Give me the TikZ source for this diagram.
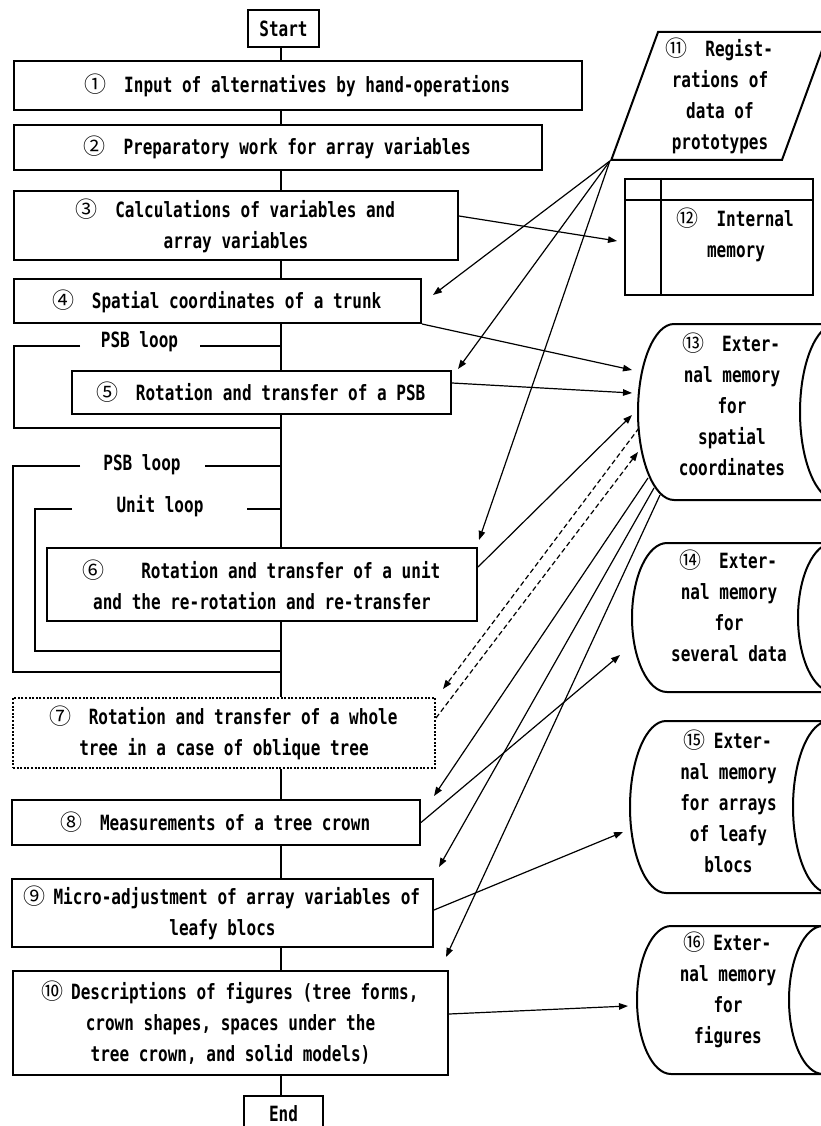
\documentclass[tikz,border=0pt]{standalone}
\usepackage{fontspec}
\usetikzlibrary{arrows.meta,calc,shapes.geometric}
\newfontfamily\monofnt{DejaVu Sans Mono}[FakeStretch=0.763]
\newfontfamily\cjkfnt{Noto Sans CJK JP}
\newcommand\cn[1]{\makebox[19pt][c]{\cjkfnt\mdseries\fontsize{22}{31}\selectfont #1}}
\newcommand\drawstore[3]{%
\draw[boxline] ($(#1.north west)+(#2,0)$)
 .. controls ($(#1.north west)+({0.45*#2},0)$) and ($(#1.west)+(0,{-0.55*#3})$) .. (#1.west)
 .. controls ($(#1.west)+(0,{0.55*#3})$) and ($(#1.south west)+({0.45*#2},0)$) .. ($(#1.south west)+(#2,0)$)
 -- (#1.south east)
 .. controls ($(#1.south east)+({-0.55*#2},0)$) and ($(#1.east)+({-#2},{0.55*#3})$) .. ($(#1.east)+({-#2},0)$)
 .. controls ($(#1.east)+({-#2},{-0.55*#3})$) and ($(#1.north east)+({-0.55*#2},0)$) .. (#1.north east)
 -- cycle;}
\begin{document}
\begin{tikzpicture}[x=1pt,y=-1pt,
  font=\monofnt\bfseries\fontsize{21}{31}\selectfont,
  boxline/.style={line width=2pt},
  box/.style={draw, line width=2pt, inner sep=0pt, align=center},
  dotbox/.style={dash pattern=on 2pt off 1.6pt},
  flow/.style={line width=2pt},
  conn/.style={line width=1.2pt, -{Triangle[length=9pt,width=6.5pt]}},
  dconn/.style={dash pattern=on 5pt off 3pt},
  ghost/.style={inner sep=0pt, outer sep=0pt},
  txt/.style={align=center, inner sep=0pt}]
\useasboundingbox (0,0) rectangle (821,1126);
\clip (0,0) rectangle (821,1126);
\fill[white] (0,0) rectangle (821,1126);

% main column
\node[box, minimum width=71pt, minimum height=37pt] (start) at (283.5,28.5) {Start};
\node[box, minimum width=568pt, minimum height=49pt] (b1) at (298,85.5) {\cn{①}~~Input of alternatives by hand-operations};
\node[box, minimum width=528pt, minimum height=45pt] (b2) at (278,147.5) {\cn{②}~~Preparatory work for array variables};
\node[box, minimum width=444pt, minimum height=69pt] (b3) at (236,225.5) {\cn{③}~~Calculations of variables and\\array variables};
\node[box, minimum width=407pt, minimum height=44pt] (b4) at (217.5,301) {\cn{④}~~Spatial coordinates of a trunk};
\node[box, minimum width=379pt, minimum height=43pt] (b5) at (261.5,392.5) {\cn{⑤}~~Rotation and transfer of a PSB};
\node[box, minimum width=430pt, minimum height=73pt] (b6) at (262,584.5) {\cn{⑥}~~~~Rotation and transfer of a unit\\and the re-rotation and re-transfer};
\node[box, dotbox, minimum width=422pt, minimum height=70pt] (b7) at (224,733) {\cn{⑦}~~Rotation and transfer of a whole\\tree in a case of oblique tree};
\node[box, minimum width=408pt, minimum height=45pt] (b8) at (216,822.5) {\cn{⑧}~~Measurements of a tree crown};
\node[box, minimum width=421pt, minimum height=68pt] (b9) at (222.5,913) {\cn{⑨}~Micro-adjustment of array variables of\\leafy blocs};
\node[box, minimum width=435pt, minimum height=104pt] (b10) at (230.5,1023) {\cn{⑩}~Descriptions of figures (tree forms,\\crown shapes, spaces under the\\tree crown, and solid models)};
\node[box, minimum width=79pt, minimum height=36pt] (end) at (283.5,1114) {End};

% spine
\coordinate (spx) at (281,0);
\draw[flow] (start.south -| spx) -- (b1.north -| spx);
\draw[flow] (b1.south -| spx) -- (b2.north -| spx);
\draw[flow] (b2.south -| spx) -- (b3.north -| spx);
\draw[flow] (b3.south -| spx) -- (b4.north -| spx);
\draw[flow] (b4.south -| spx) -- (b5.north -| spx);
\draw[flow] (b5.south -| spx) -- (b6.north -| spx);
\draw[flow] (b6.south -| spx) -- (b7.north -| spx);
\draw[flow] (b7.south -| spx) -- (b8.north -| spx);
\draw[flow] (b8.south -| spx) -- (b9.north -| spx);
\draw[flow] (b9.south -| spx) -- (b10.north -| spx);
\draw[flow] (b10.south -| spx) -- (end.north -| spx);

% loops
\node[txt] (psb1) at (139.5,342) {PSB loop};
\draw[flow] (80,346) -- (14,346) -- (14,428) -- (281,428);
\draw[flow] (200,346) -- (281,346);
\node[txt] (psb2) at (142,465) {PSB loop};
\draw[flow] (80,466) -- (13,466) -- (13,672) -- (281,672);
\draw[flow] (205,466) -- (281,466);
\node[txt] (unit) at (160,506) {Unit loop};
\draw[flow] (72,509) -- (35,509) -- (35,651) -- (281,651);
\draw[flow] (247,509) -- (281,509);

% prototypes
\node[draw, line width=2pt, trapezium, trapezium left angle=71, trapezium right angle=109,
  trapezium stretches=true, minimum width=218pt, minimum height=128pt, inner sep=0pt,
  align=center] (p11) at (720,96) {\cn{⑪}~~Regist-\\rations of\\data of\\prototypes};

% internal memory
\node[draw, line width=2pt, minimum width=188pt, minimum height=116pt] (m12) at (719,237) {};
\draw[boxline] ($(m12.north west)+(37,0)$) -- ($(m12.south west)+(37,0)$);
\draw[boxline] ($(m12.north west)+(0,22)$) -- ($(m12.north east)+(0,22)$);
\node[txt] (m12t) at (736,235) {\cn{⑫}~~Internal\\memory};

% external memories
\node[ghost, minimum width=198pt, minimum height=176pt] (c13) at (737,412) {};
\drawstore{c13}{36}{88}
\node[txt] (t13) at (732,404) {\cn{⑬}~~Exter-\\nal memory\\for\\spatial\\coordinates};
\node[ghost, minimum width=201pt, minimum height=149pt] (c14) at (732.5,617.5) {};
\drawstore{c14}{35}{74.5}
\node[txt] (t14) at (729,606) {\cn{⑭}~~Exter-\\nal memory\\for\\several data};
\node[ghost, minimum width=199pt, minimum height=172pt] (c15) at (729.5,807) {};
\drawstore{c15}{36}{86}
\node[txt] (t15) at (728.5,801) {\cn{⑮}~Exter-\\nal memory\\for arrays\\of leafy\\blocs};
\node[ghost, minimum width=186pt, minimum height=148pt] (c16) at (730,1000) {};
\drawstore{c16}{34}{74}
\node[txt] (t16) at (728,990) {\cn{⑯}~Exter-\\nal memory\\for\\figures};

% connectors
\draw[conn] ($(b3.east)+(0,-9.5)$) -- ($(m12.west)+(-7,4)$);
\draw[conn] (p11.bottom left corner) -- ($(b4.east)+(11,-6)$);
\draw[conn] (p11.bottom left corner) -- ($(b5.north east)+(6,-1)$);
\draw[conn] (p11.bottom left corner) -- ($(b6.north east)+(1,-7)$);
\draw[conn] (b4.south east) -- ($(c13.west)+(-6,-42)$);
\draw[conn] ($(b5.east)+(0,-9.5)$) -- ($(c13.west)+(-6,-19)$);
\draw[conn] ($(b6.east)+(0,-17.5)$) -- ($(c13.west)+(-6,3)$);
\draw[conn, dconn] ($(c13.west)+(1,16)$) -- ($(b7.north east)+(7,-8)$);
\draw[conn, dconn] ($(b7.east)+(0,-15)$) -- ($(c13.west)+(0,40)$);
\draw[conn] ($(c13.west)+(10,66)$) -- ($(b8.north east)+(13,-3)$);
\draw[conn] ($(c13.west)+(16,76)$) -- ($(b9.north east)+(5,-11)$);
\draw[conn] ($(c13.west)+(22,83)$) -- ($(b10.north east)+(-3,-13)$);
\draw[conn] (b8.east) -- ($(c14.west)+(-12,37.5)$);
\draw[conn] ($(b9.east)+(0,-3)$) -- ($(c15.west)+(-7,25)$);
\draw[conn] ($(b10.east)+(0,-9)$) -- ($(c16.west)+(-9,6)$);
\end{tikzpicture}
\end{document}
